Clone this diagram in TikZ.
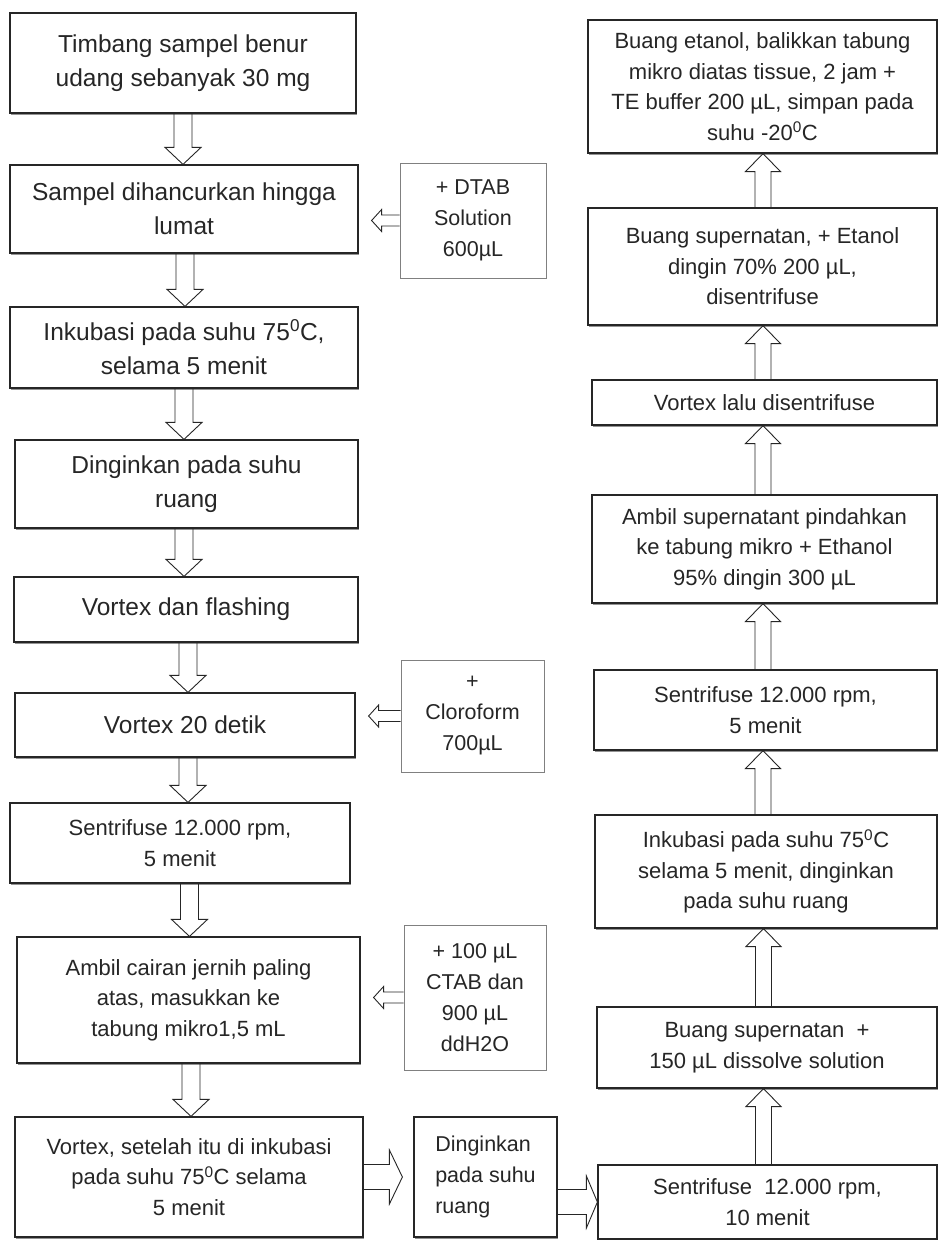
\documentclass[tikz,border=0pt]{standalone}
\usepackage{fontspec}
\setmainfont{Liberation Sans}
\usetikzlibrary{calc,shadows}
\newcommand\arrdn[3]{% upper node, lower node, x
  \draw[blk] let \p1=(#1.south), \p2=(#2.north) in
    ({#3pt-9pt},\y1) -- ({#3pt-9pt},{\y2+17pt}) -- ({#3pt-18pt},{\y2+17pt}) -- (#3pt,\y2)
    -- ({#3pt+18pt},{\y2+17pt}) -- ({#3pt+9pt},{\y2+17pt}) -- ({#3pt+9pt},\y1);}
\newcommand\arrup[3]{% lower node, upper node, x
  \draw[blk] let \p1=(#1.north), \p2=(#2.south) in
    ({#3pt-8pt},\y1) -- ({#3pt-8pt},{\y2-18pt}) -- ({#3pt-17.5pt},{\y2-18pt}) -- (#3pt,\y2)
    -- ({#3pt+17.5pt},{\y2-18pt}) -- ({#3pt+8pt},{\y2-18pt}) -- ({#3pt+8pt},\y1);}
\newcommand\arrlt[2]{% side node, main node
  \draw[blk] let \p1=(#1.west), \p2=(#2.east) in
    (\x1,{\y1+5.5pt}) -- ({\x2+23pt},{\y1+5.5pt}) -- ({\x2+23pt},{\y1+11pt}) -- ({\x2+13pt},\y1)
    -- ({\x2+23pt},{\y1-11pt}) -- ({\x2+23pt},{\y1-5.5pt}) -- (\x1,{\y1-5.5pt});}
\begin{document}
\begin{tikzpicture}[x=1pt,y=-1pt,
  every node/.style={text=black!85},
  mainbox/.style={draw=black!85, line width=1.2pt, fill=white, inner sep=0pt, align=center,
     drop shadow={shadow xshift=1.2pt, shadow yshift=-1.6pt, fill=black!60, opacity=0.7}},
  sidebox/.style={draw=black!50, line width=0.7pt, fill=white, inner sep=0pt, align=center},
  bigtxt/.style={font=\fontsize{24.5}{34}\selectfont},
  midtxt/.style={font=\fontsize{22}{30.5}\selectfont},
  smalltxt/.style={font=\fontsize{21.5}{31}\selectfont},
  blk/.style={draw=black!85, line width=0.9pt, line join=miter},
]
\fill[white] (0,0) rectangle (941,1240);
\useasboundingbox (0,0) rectangle (941,1240);

% left column
\node[mainbox,bigtxt,minimum width=346pt,minimum height=100pt] (L1) at (183,63)
  {Timbang sampel benur\\udang sebanyak 30 mg};
\node[mainbox,bigtxt,minimum width=348pt,minimum height=88pt] (L2) at (184,209)
  {Sampel dihancurkan hingga\\lumat};
\node[mainbox,bigtxt,minimum width=348pt,minimum height=81pt] (L3) at (184,347.5)
  {Inkubasi pada suhu 75\textsuperscript{0}C,\\selama 5 menit};
\node[mainbox,bigtxt,minimum width=343pt,minimum height=88pt] (L4) at (186.5,484)
  {Dinginkan pada suhu\\ruang};
\node[mainbox,bigtxt,minimum width=344pt,minimum height=65pt] (L5) at (186,609.5)
  {Vortex dan flashing};
\node[mainbox,bigtxt,minimum width=340pt,minimum height=64pt] (L6) at (185,725)
  {Vortex 20 detik};
\node[mainbox,midtxt,minimum width=340pt,minimum height=80pt] (L7) at (180,843)
  {Sentrifuse 12.000 rpm,\\5 menit};
\node[mainbox,midtxt,minimum width=343pt,minimum height=126pt] (L8) at (188.5,1000)
  {Ambil cairan jernih paling\\atas, masukkan ke\\tabung mikro1,5 mL};
\node[mainbox,midtxt,minimum width=348pt,minimum height=120pt] (L9) at (189,1177)
  {Vortex, setelah itu di inkubasi\\pada suhu 75\textsuperscript{0}C selama\\5 menit};

% side boxes
\node[sidebox,smalltxt,minimum width=146pt,minimum height=115pt] (S1) at (473,220.5)
  {+ DTAB\\Solution\\600µL};
\node[sidebox,smalltxt,minimum width=143pt,minimum height=112pt] (S2) at (472.5,716)
  {+\\Cloroform\\700µL};
\node[sidebox,smalltxt,minimum width=142pt,minimum height=145pt] (S3) at (475,997.5)
  {+ 100 µL\\CTAB dan\\900 µL\\ddH2O};
\node[mainbox,smalltxt,align=left,minimum width=143pt,minimum height=120pt] (S4) at (485.5,1177)
  {Dinginkan\\pada suhu\\ruang};

% right column
\node[mainbox,midtxt,minimum width=349pt,minimum height=133pt] (R1) at (762.5,86.5)
  {Buang etanol, balikkan tabung\\mikro diatas tissue, 2 jam +\\TE buffer 200 µL, simpan pada\\suhu -20\textsuperscript{0}C};
\node[mainbox,midtxt,minimum width=349pt,minimum height=117pt] (R2) at (762.5,266.5)
  {Buang supernatan, + Etanol\\dingin 70\% 200 µL,\\disentrifuse};
\node[mainbox,midtxt,minimum width=345pt,minimum height=45pt] (R3) at (764.5,402.5)
  {Vortex lalu disentrifuse};
\node[mainbox,midtxt,minimum width=345pt,minimum height=108pt] (R4) at (764.5,549)
  {Ambil supernatant pindahkan\\ke tabung mikro + Ethanol\\95\% dingin 300 µL};
\node[mainbox,midtxt,minimum width=343pt,minimum height=80pt] (R5) at (765.5,710)
  {Sentrifuse 12.000 rpm,\\5 menit};
\node[mainbox,midtxt,minimum width=342pt,minimum height=113pt] (R6) at (766,871.5)
  {Inkubasi pada suhu 75\textsuperscript{0}C\\selama 5 menit, dinginkan\\pada suhu ruang};
\node[mainbox,midtxt,minimum width=340pt,minimum height=81pt] (R7) at (767,1047.5)
  {Buang supernatan\ \ +\\150 µL dissolve solution};
\node[mainbox,midtxt,minimum width=339pt,minimum height=74pt] (R8) at (767.5,1202)
  {Sentrifuse\ \ 12.000 rpm,\\10 menit};

% down arrows
\arrdn{L1}{L2}{183}
\arrdn{L2}{L3}{185}
\arrdn{L3}{L4}{184}
\arrdn{L4}{L5}{184}
\arrdn{L5}{L6}{188}
\arrdn{L6}{L7}{188}
\arrdn{L7}{L8}{189.5}
\arrdn{L8}{L9}{191}

% side arrows
\arrlt{S1}{L2}
\arrlt{S2}{L6}
\arrlt{S3}{L8}

% bottom right arrows
\draw[blk] let \p1=(L9.east), \p2=(S4.west) in
  (\x1,{\y1+12.5pt}) -- ({\x2-24pt},{\y1+12.5pt}) -- ({\x2-24pt},{\y1+27pt}) -- ({\x2-11pt},\y1)
  -- ({\x2-24pt},{\y1-27pt}) -- ({\x2-24pt},{\y1-12.5pt}) -- (\x1,{\y1-12.5pt});
\draw[blk] let \p1=(S4.east), \p2=(R8.west) in
  (\x1,{\y2+12.5pt}) -- ({\x2-11pt},{\y2+12.5pt}) -- ({\x2-11pt},{\y2+26pt}) -- (\x2,\y2)
  -- ({\x2-11pt},{\y2-26pt}) -- ({\x2-11pt},{\y2-12.5pt}) -- (\x1,{\y2-12.5pt});

% up arrows
\arrup{R8}{R7}{763.5}
\arrup{R7}{R6}{763.5}
\arrup{R6}{R5}{763}
\arrup{R5}{R4}{763}
\arrup{R4}{R3}{763}
\arrup{R3}{R2}{763}
\arrup{R2}{R1}{763}
\end{tikzpicture}
\end{document}
